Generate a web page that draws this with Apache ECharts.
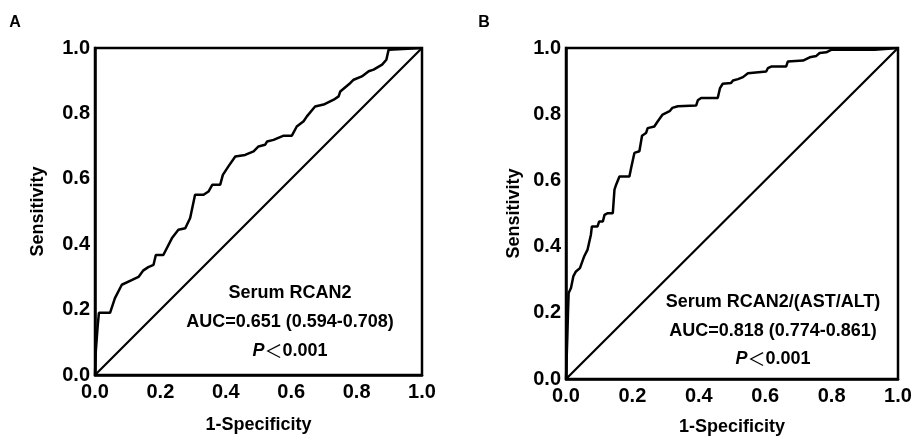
<!DOCTYPE html>
<html>
<head>
<meta charset="utf-8">
<script src="https://cdn.jsdelivr.net/npm/echarts@6/dist/echarts.min.js"></script>
<style>
  html, body { margin: 0; padding: 0; background: #fff; }
  #main { width: 912px; height: 436px; }
</style>
</head>
<body>
<div id="main"></div>
<script>
// panel A: Serum RCAN2
const fprA = [0, 0.002, 0.008, 0.012, 0.046, 0.061, 0.082, 0.112, 0.133, 0.148, 0.163, 0.179, 0.186, 0.209,
  0.235, 0.255, 0.276, 0.291, 0.306, 0.332, 0.347, 0.359, 0.383, 0.391, 0.408, 0.429, 0.459, 0.485, 0.5,
  0.52, 0.526, 0.546, 0.577, 0.602, 0.617, 0.638, 0.648, 0.673, 0.699, 0.73, 0.745, 0.75, 0.781, 0.791,
  0.816, 0.837, 0.852, 0.878, 0.891, 0.898, 0.903, 1]
const tprA = [0, 0.066, 0.148, 0.19, 0.19, 0.235, 0.276, 0.29, 0.3, 0.32, 0.33, 0.337, 0.367, 0.367,
  0.418, 0.444, 0.449, 0.48, 0.551, 0.551, 0.561, 0.582, 0.582, 0.612, 0.638, 0.668, 0.673, 0.684, 0.699,
  0.704, 0.714, 0.719, 0.732, 0.732, 0.76, 0.776, 0.791, 0.821, 0.827, 0.842, 0.852, 0.867, 0.893, 0.903,
  0.913, 0.929, 0.934, 0.949, 0.964, 0.995, 1, 1]

// panel B: Serum RCAN2/(AST/ALT)
const fprB = [0, 0.004, 0.006, 0.008, 0.015, 0.022, 0.03, 0.042, 0.055, 0.065, 0.075, 0.078, 0.095, 0.1, 0.111,
  0.116, 0.126, 0.141, 0.146, 0.151, 0.161, 0.191, 0.196, 0.206, 0.221, 0.229, 0.241, 0.246, 0.266, 0.276,
  0.291, 0.312, 0.32, 0.337, 0.342, 0.392, 0.397, 0.407, 0.457, 0.464, 0.472, 0.497, 0.503, 0.518, 0.533,
  0.548, 0.553, 0.603, 0.608, 0.618, 0.663, 0.668, 0.714, 0.719, 0.734, 0.754, 0.764, 0.784, 0.8, 0.93,
  0.935, 1]
const tprB = [0, 0.127, 0.2, 0.26, 0.275, 0.31, 0.325, 0.335, 0.371, 0.391, 0.436, 0.461, 0.461, 0.476, 0.476,
  0.496, 0.501, 0.501, 0.572, 0.587, 0.612, 0.612, 0.637, 0.683, 0.688, 0.735, 0.743, 0.758, 0.763, 0.778,
  0.799, 0.809, 0.819, 0.824, 0.826, 0.826, 0.842, 0.849, 0.849, 0.879, 0.892, 0.894, 0.902, 0.906, 0.912,
  0.924, 0.929, 0.929, 0.939, 0.944, 0.944, 0.959, 0.962, 0.966, 0.972, 0.976, 0.985, 0.987, 0.995, 0.995,
  1, 1]

const refLine = [0, 1]
const ticks = [0, 0.2, 0.4, 0.6, 0.8, 1.0]

const labelsA = ['Serum RCAN2', 'AUC=0.651 (0.594-0.708)']
const labelsB = ['Serum RCAN2/(AST/ALT)', 'AUC=0.818 (0.774-0.861)']
const pText = '0.001'

const font = '"Liberation Sans", Arial, "Noto Sans CJK SC", sans-serif'
const zip = (xs, ys) => xs.map((x, i) => [x, ys[i]])

const chart = echarts.init(document.getElementById('main'))

const makeX = (idx, gap) => ({
  type: 'value',
  gridIndex: idx,
  min: ticks[0],
  max: ticks[ticks.length - 1],
  interval: 0.2,
  name: '1-Specificity',
  nameLocation: 'middle',
  nameGap: gap,
  nameTextStyle: { color: '#000', fontSize: 18, fontWeight: 'bold', fontFamily: font },
  axisLine: { show: true, lineStyle: { color: '#000', width: 2.5 } },
  axisTick: { show: false },
  splitLine: { show: false },
  axisLabel: {
    color: '#000', fontSize: 20, fontWeight: 'bold', fontFamily: font, margin: 7,
    formatter: v => v.toFixed(1)
  }
})

const makeY = (idx, gap) => ({
  type: 'value',
  gridIndex: idx,
  min: ticks[0],
  max: ticks[ticks.length - 1],
  interval: 0.2,
  name: 'Sensitivity',
  nameLocation: 'middle',
  nameGap: gap,
  nameTextStyle: { color: '#000', fontSize: 18, fontWeight: 'bold', fontFamily: font },
  axisLine: { show: true, lineStyle: { color: '#000', width: 2.5 } },
  axisTick: { show: false },
  splitLine: { show: false },
  axisLabel: {
    color: '#000', fontSize: 20, fontWeight: 'bold', fontFamily: font, margin: 5,
    formatter: v => v.toFixed(1)
  }
})

const lineSeries = (idx, data, w) => ({
  type: 'line',
  xAxisIndex: idx,
  yAxisIndex: idx,
  data: data,
  showSymbol: false,
  symbol: 'none',
  smooth: false,
  lineStyle: { color: '#000', width: w },
  silent: true,
  animation: false
})

const annot = (cx, y, lines) => lines.map((t, i) => ({
  type: 'text',
  x: cx,
  y: y + i * 29,
  style: {
    text: t, fill: '#000', font: 'bold 18px ' + font,
    textAlign: 'center', textVerticalAlign: 'middle'
  }
}))

const pLabel = (cx, y) => ({
  type: 'text',
  x: cx,
  y: y,
  style: {
    text: '{p|P}{lt|＜}{n|' + pText + '}',
    textAlign: 'center', textVerticalAlign: 'middle',
    rich: {
      p: { fontStyle: 'italic', fontWeight: 'bold', fontSize: 18, fontFamily: font, fill: '#000' },
      lt: { fontSize: 18, fontFamily: '"Noto Sans CJK SC", sans-serif', fill: '#000' },
      n: { fontWeight: 'bold', fontSize: 18, fontFamily: font, fill: '#000' }
    }
  }
})

chart.setOption({
  backgroundColor: '#fff',
  animation: false,
  grid: [
    { left: 95, right: 490, top: 48, bottom: 61, show: true, borderColor: '#000', borderWidth: 2.5,
      containLabel: false, outerBoundsMode: 'none' },
    { left: 566, right: 14, top: 48, bottom: 57, show: true, borderColor: '#000', borderWidth: 2.5,
      containLabel: false, outerBoundsMode: 'none' }
  ],
  xAxis: [makeX(0, 41), makeX(1, 39)],
  yAxis: [makeY(0, 48), makeY(1, 43)],
  series: [
    lineSeries(0, zip(fprA, tprA), 2.5),
    lineSeries(0, zip(refLine, refLine), 2.2),
    lineSeries(1, zip(fprB, tprB), 2.5),
    lineSeries(1, zip(refLine, refLine), 2.2)
  ],
  graphic: [
    { type: 'text', x: 15, y: 23, style: { text: 'A', fill: '#000', font: 'bold 16px ' + font, textAlign: 'center', textVerticalAlign: 'middle' } },
    { type: 'text', x: 484, y: 23, style: { text: 'B', fill: '#000', font: 'bold 16px ' + font, textAlign: 'center', textVerticalAlign: 'middle' } },
    ...annot(290, 293, labelsA),
    pLabel(290, 351),
    ...annot(773, 302, labelsB),
    pLabel(773, 359)
  ]
})
</script>
</body>
</html>
